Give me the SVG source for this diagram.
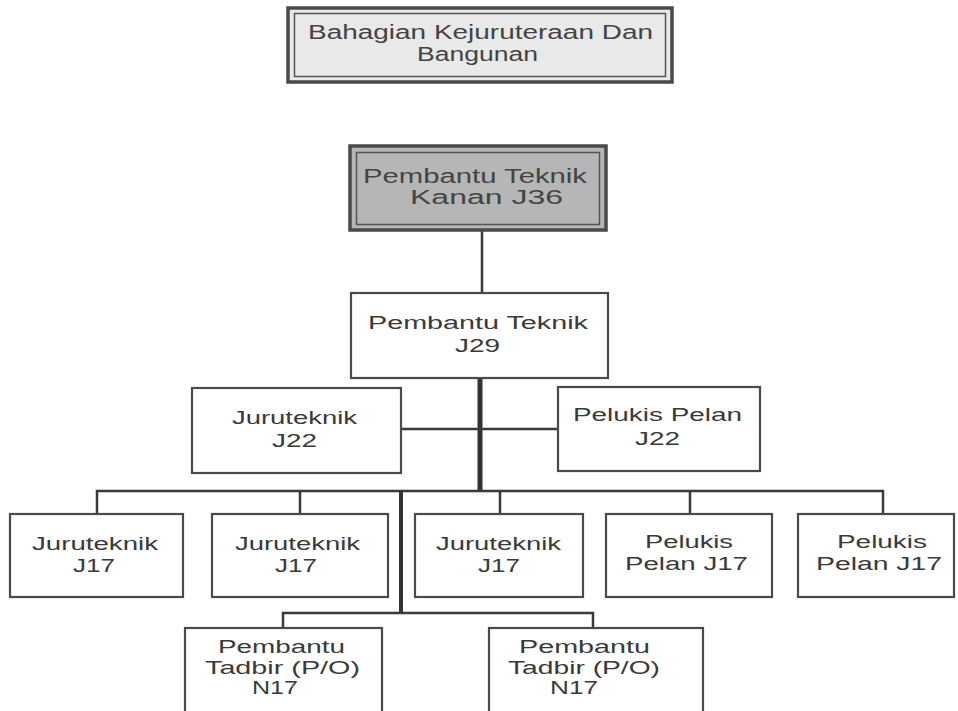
<svg xmlns="http://www.w3.org/2000/svg" width="958" height="711" viewBox="0 0 958 711">
<style>
.box{fill:#ffffff;stroke:#4a4a4a;stroke-width:2.2}
.outer{stroke:#4a4a4a;stroke-width:3.5}
.inner{fill:none;stroke:#555;stroke-width:1.5}
.t{font-family:"Liberation Sans",Arial,sans-serif;font-size:18px;fill:#3a3a3a}
.tb{font-family:"Liberation Sans",Arial,sans-serif;font-size:20px;fill:#444}
.c{stroke:#3a3a3a;stroke-width:2.5;fill:none}
.ck{stroke:#333;stroke-width:5;fill:none}
</style>
<rect width="958" height="711" fill="#ffffff"/>
<g id="connectors">
<line class="c" x1="482" y1="231" x2="482" y2="293"/>
<line class="ck" x1="480" y1="378" x2="480" y2="492"/>
<line class="c" x1="401" y1="429" x2="558" y2="429"/>
<polyline class="c" points="97,514 97,491 883,491 883,514"/>
<line class="c" x1="300" y1="491" x2="300" y2="514"/>
<line class="c" x1="500" y1="491" x2="500" y2="514"/>
<line class="c" x1="690" y1="491" x2="690" y2="514"/>
<line class="ck" x1="401" y1="490" x2="401" y2="614" style="stroke-width:4"/>
<polyline class="c" points="283,628 283,613 593,613 593,628"/>
</g>
<g id="n-bahagian">
<rect class="outer" x="288" y="8" width="384" height="74" fill="#e9e9e9"/>
<rect class="inner" x="294.5" y="13.5" width="371" height="63"/>
<text class="tb" x="308" y="39" textLength="345" lengthAdjust="spacingAndGlyphs">Bahagian Kejuruteraan Dan</text>
<text class="tb" x="417" y="61" textLength="121" lengthAdjust="spacingAndGlyphs">Bangunan</text>
</g>
<g id="n-j36">
<rect class="outer" x="350" y="146" width="256" height="84" fill="#b6b6b6"/>
<rect class="inner" x="356.5" y="152.5" width="243" height="72"/>
<text class="tb" x="363" y="183" textLength="224" lengthAdjust="spacingAndGlyphs">Pembantu Teknik</text>
<text class="tb" x="410" y="204" textLength="153" lengthAdjust="spacingAndGlyphs">Kanan J36</text>
</g>
<g id="n-j29">
<rect class="box" x="351" y="293" width="257" height="85"/>
<text class="t" x="368" y="329" textLength="220" lengthAdjust="spacingAndGlyphs">Pembantu Teknik</text>
<text class="t" x="455" y="352" textLength="45" lengthAdjust="spacingAndGlyphs">J29</text>
</g>
<g id="n-juru-j22">
<rect class="box" x="192" y="388" width="209" height="85"/>
<text class="t" x="232" y="424" textLength="125" lengthAdjust="spacingAndGlyphs">Juruteknik</text>
<text class="t" x="272" y="447" textLength="45" lengthAdjust="spacingAndGlyphs">J22</text>
</g>
<g id="n-pelukis-j22">
<rect class="box" x="558" y="387" width="202" height="84"/>
<text class="t" x="573" y="421" textLength="169" lengthAdjust="spacingAndGlyphs">Pelukis Pelan</text>
<text class="t" x="635" y="445" textLength="45" lengthAdjust="spacingAndGlyphs">J22</text>
</g>
<g id="n-juru-j17-a">
<rect class="box" x="10" y="514" width="173" height="83"/>
<text class="t" x="32" y="550" textLength="126" lengthAdjust="spacingAndGlyphs">Juruteknik</text>
<text class="t" x="73" y="572" textLength="42" lengthAdjust="spacingAndGlyphs">J17</text>
</g>
<g id="n-juru-j17-b">
<rect class="box" x="212" y="514" width="176" height="83"/>
<text class="t" x="235" y="550" textLength="125" lengthAdjust="spacingAndGlyphs">Juruteknik</text>
<text class="t" x="275" y="572" textLength="42" lengthAdjust="spacingAndGlyphs">J17</text>
</g>
<g id="n-juru-j17-c">
<rect class="box" x="415" y="514" width="168" height="83"/>
<text class="t" x="436" y="550" textLength="125" lengthAdjust="spacingAndGlyphs">Juruteknik</text>
<text class="t" x="478" y="572" textLength="42" lengthAdjust="spacingAndGlyphs">J17</text>
</g>
<g id="n-pelukis-j17-a">
<rect class="box" x="606" y="514" width="166" height="83"/>
<text class="t" x="645" y="548" textLength="88" lengthAdjust="spacingAndGlyphs">Pelukis</text>
<text class="t" x="625" y="570" textLength="123" lengthAdjust="spacingAndGlyphs">Pelan J17</text>
</g>
<g id="n-pelukis-j17-b">
<rect class="box" x="798" y="514" width="156" height="83"/>
<text class="t" x="837" y="548" textLength="90" lengthAdjust="spacingAndGlyphs">Pelukis</text>
<text class="t" x="816" y="570" textLength="126" lengthAdjust="spacingAndGlyphs">Pelan J17</text>
</g>
<g id="n-tadbir-a">
<rect class="box" x="185" y="628" width="197" height="100"/>
<text class="t" x="218" y="653" textLength="127" lengthAdjust="spacingAndGlyphs">Pembantu</text>
<text class="t" x="205" y="674" textLength="155" lengthAdjust="spacingAndGlyphs">Tadbir (P/O)</text>
<text class="t" x="252" y="694" textLength="46" lengthAdjust="spacingAndGlyphs">N17</text>
</g>
<g id="n-tadbir-b">
<rect class="box" x="489" y="628" width="214" height="100"/>
<text class="t" x="519" y="653" textLength="131" lengthAdjust="spacingAndGlyphs">Pembantu</text>
<text class="t" x="508" y="674" textLength="152" lengthAdjust="spacingAndGlyphs">Tadbir (P/O)</text>
<text class="t" x="550" y="694" textLength="48" lengthAdjust="spacingAndGlyphs">N17</text>
</g>
</svg>
